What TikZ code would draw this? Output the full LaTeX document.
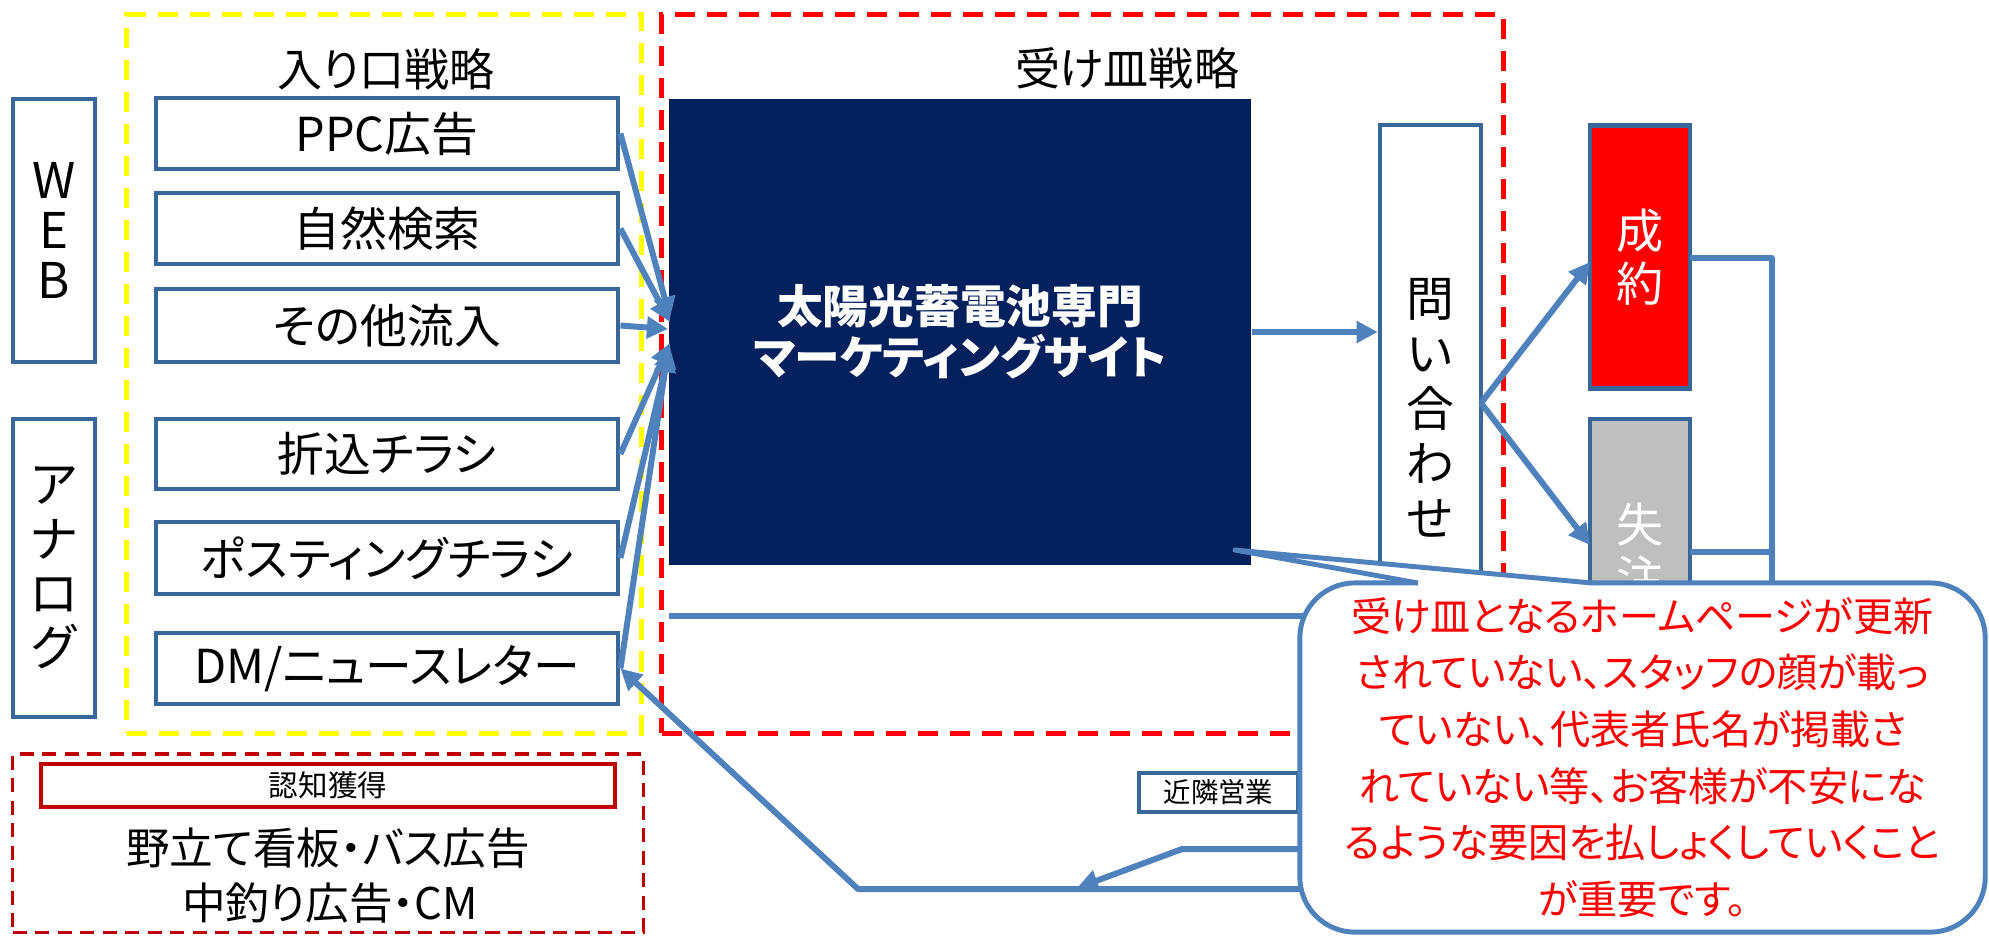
\documentclass[tikz,border=0pt]{standalone}
\usepackage{fontspec}
\setmainfont{Noto Sans CJK JP}[RawFeature=+palt]
\usetikzlibrary{arrows.meta}
\definecolor{boxblue}{HTML}{3A679A}
\definecolor{lineblue}{HTML}{4F81BD}
\definecolor{navyfill}{HTML}{04215E}
\definecolor{dred}{HTML}{C00000}
\definecolor{dashred}{HTML}{FF0000}
\definecolor{dashyel}{HTML}{FFFF00}
\definecolor{lossgray}{HTML}{BFBFBF}
\definecolor{winred}{HTML}{FF0000}
\tikzset{
  box/.style={draw=boxblue, line width=1.3pt, fill=white, inner sep=0pt, text=black,
    font=\fontsize{13.3}{15}\selectfont, align=center},
  conn/.style={draw=lineblue, line width=1.7pt, line join=round},
  arr/.style={conn, -{Triangle[length=6pt,width=6pt]}},
  frame/.style={line width=1.5pt, inner sep=0pt, dash pattern=on 5.7pt off 3.4pt},
  title/.style={font=\fontsize{12.8}{15}\selectfont, inner sep=0pt},
  bigtext/.style={font=\fontsize{12.4}{14}\selectfont, inner sep=0pt},
  smallbox/.style={draw=boxblue, line width=1pt, fill=white, inner sep=0pt,
    font=\fontsize{7.8}{9}\selectfont},
  calloutbox/.style={draw=lineblue, line width=1.4pt, fill=white, rounded corners=0.55cm,
    inner sep=0pt, align=center, text=winred, font=\fontsize{11.4}{16.1}\selectfont},
}
\begin{document}
\begin{tikzpicture}[x=0.01cm, y=-0.01cm]
\useasboundingbox (0,0) rectangle (1989,935);

% frames
\node[frame, draw=dashyel, minimum width=5.14cm, minimum height=7.18cm] (yframe) at (384,374) {};
\node[frame, draw=dashred, minimum width=8.41cm, minimum height=7.18cm] (rframe) at (1082.5,374) {};
\node[draw=dred, line width=0.9pt, dash pattern=on 4pt off 2.4pt, inner sep=0pt,
      minimum width=6.30cm, minimum height=1.78cm] (aframe) at (328,843) {};

% titles
\node[title] (t-iri) at (386,69) {入り口戦略};
\node[title] (t-uke) at (1127,68) {受け皿戦略};

% left category boxes
\node[box, minimum width=0.82cm, minimum height=2.63cm, font=\fontsize{14}{14.2}\selectfont] (web) at (54,230.5) {W\\E\\B};
\node[box, minimum width=0.82cm, minimum height=2.98cm, font=\fontsize{14}{15.4}\selectfont] (analog) at (54,568) {ア\\ナ\\ロ\\グ};

% entry boxes
\node[box, minimum width=4.62cm, minimum height=0.71cm] (ppc) at (387,133.5) {PPC広告};
\node[box, minimum width=4.62cm, minimum height=0.71cm] (shizen) at (387,228.5) {自然検索};
\node[box, minimum width=4.62cm, minimum height=0.73cm] (sonota) at (387,325.5) {その他流入};
\node[box, minimum width=4.62cm, minimum height=0.70cm] (orikomi) at (387,454) {折込チラシ};
\node[box, minimum width=4.62cm, minimum height=0.72cm] (posting) at (387,558) {ポスティングチラシ};
\node[box, minimum width=4.62cm, minimum height=0.71cm] (dm) at (387,668.5) {DM/ニュースレター};

% awareness
\node[draw=dred, line width=1.3pt, fill=white, inner sep=0pt, minimum width=5.74cm, minimum height=0.43cm,
      font=\fontsize{8.4}{9}\selectfont] (ninchi) at (328,785.5) {認知獲得};
\node[bigtext] (nodate) at (328,848) {野立て看板・バス広告};
\node[bigtext] (nakazuri) at (330,903) {中釣り広告・CM};

% site
\node[fill=navyfill, inner sep=0pt, minimum width=5.82cm, minimum height=4.66cm, text=white, align=center,
      font=\bfseries\fontsize{13}{14.5}\selectfont] (site) at (960,332) {太陽光蓄電池専門\\マーケティングサイト};

% inquiry
\node[box, minimum width=1.01cm, minimum height=4.50cm] (toi) at (1430.5,350) {};
\node[inner sep=0pt, align=center, font=\fontsize{13.6}{15.6}\selectfont] (toi-t) at (1430,408) {問\\い\\合\\わ\\せ};

% results
\node[box, fill=winred, text=white, minimum width=1.0cm, minimum height=2.63cm, font=\fontsize{13.4}{15.1}\selectfont] (seiyaku) at (1640,257) {成\\約};
\node[box, fill=lossgray, text=white, minimum width=1.0cm, minimum height=2.64cm, font=\fontsize{13.4}{15.1}\selectfont] (shicchu) at (1640,551) {失\\注};

% neighbour sales
\node[smallbox, minimum width=1.59cm, minimum height=0.39cm] (kinrin) at (1218.5,792.5) {近隣営業};

% coordinates
\coordinate (n1) at (670,318);
\coordinate (n2) at (670,322);
\coordinate (n3) at (668,329);
\coordinate (n4) at (670,343);
\coordinate (n5) at (670,347);
\coordinate (n6) at (668,351);
\coordinate (fork) at (1481,403);
\coordinate (sei-in) at (1590,262);
\coordinate (shi-in) at (1590,545);
\coordinate (sei-out) at (1690,258);
\coordinate (shi-out) at (1690,552);
\coordinate (brk-top) at (1772,258);
\coordinate (brk-mid) at (1772,552);
\coordinate (brk-ret) at (1772,616);
\coordinate (brk-a) at (1772,849);
\coordinate (brk-b) at (1772,889);
\coordinate (ret-end) at (669,616);
\coordinate (bend-a) at (1182,849);
\coordinate (tip-a) at (1077,888);
\coordinate (bend-b) at (858,889);

% arrows into site
\draw[arr] (ppc.east) -- (n1);
\draw[arr] (shizen.east) -- (n2);
\draw[arr] (sonota.east) -- (n3);
\draw[arr] (orikomi.east) -- (n4);
\draw[arr] (posting.east) -- (n5);
\draw[arr] (dm.east) -- (n6);

% site to inquiry
\draw[arr] (site.east) -- (site.east -| toi.west);
% fork
\draw[arr] (fork) -- (sei-in);
\draw[arr] (fork) -- (shi-in);
% bracket and return lines
\draw[conn] (sei-out) -- (brk-top) -- (brk-b);
\draw[conn] (shi-out) -- (brk-mid);
\draw[conn] (brk-ret) -- (ret-end);
\draw[arr] (brk-a) -- (bend-a) -- (tip-a);
\draw[arr] (brk-b) -- (bend-b) -- (dm.east);

% callout
\node[calloutbox, minimum width=6.85cm, minimum height=3.49cm] (callout) at (1642.5,757.5)
  {受け皿となるホームページが更新\\されていない、スタッフの顔が載っ\\ていない、代表者氏名が掲載さ\\れていない等、お客様が不安にな\\るような要因を払しょくしていくこと\\が重要です。};
\coordinate (ptip) at (1235,550);
\coordinate (pb1) at (1418,583);
\coordinate (pb2) at (1592,583);
\fill[white] (pb1) -- (ptip) -- (pb2) -- ([yshift=-0.9pt]pb2) -- ([yshift=-0.9pt]pb1) -- cycle;
\draw[draw=lineblue, line width=1.4pt, line join=round] (pb1) -- (ptip) -- (pb2);
\end{tikzpicture}
\end{document}
